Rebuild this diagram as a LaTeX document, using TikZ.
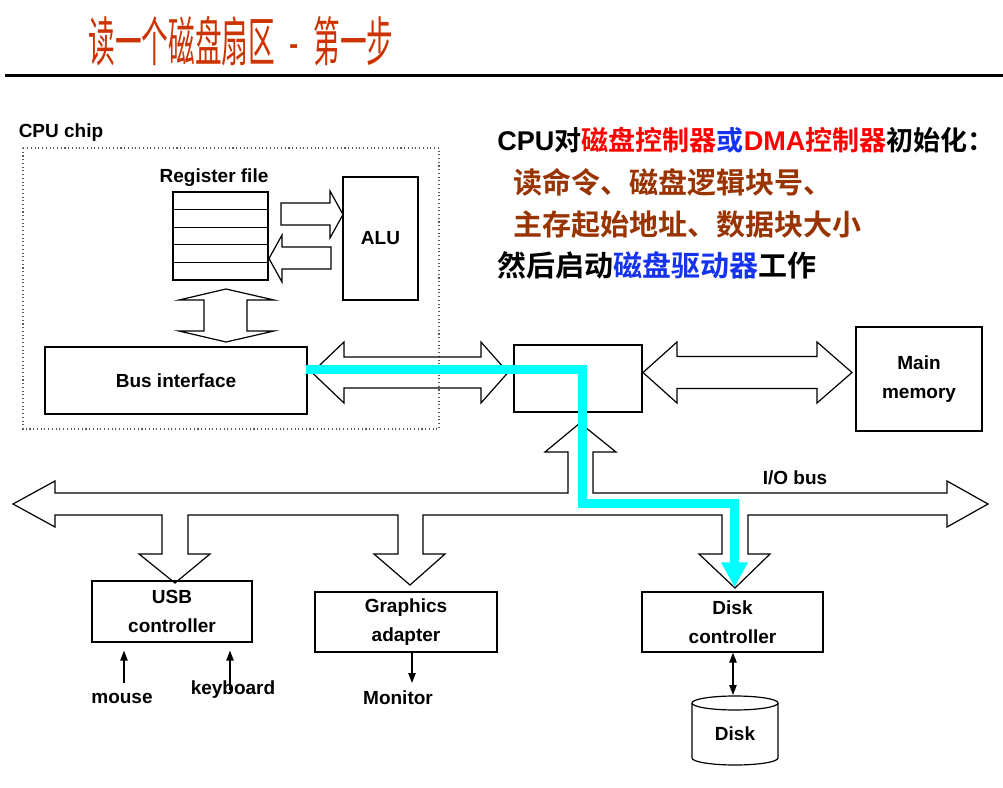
\documentclass[tikz,border=0pt]{standalone}
\usepackage{fontspec}
\usepackage{graphicx}
\setmainfont{Liberation Sans}
\newfontfamily\cjk{Noto Sans CJK SC}[BoldFont={Noto Sans CJK SC Bold}]
\usetikzlibrary{arrows.meta,calc}
\definecolor{titlered}{RGB}{204,51,0}
\definecolor{txtred}{RGB}{255,0,0}
\definecolor{txtblue}{RGB}{20,50,240}
\definecolor{txtbrown}{RGB}{153,51,0}
\definecolor{hilite}{RGB}{0,255,255}
\newcommand\lat[1]{{\rmfamily\bfseries #1}}
\tikzset{
  lbl/.style={font={\fontsize{14.25pt}{21.5pt}\selectfont\bfseries}, align=center, inner sep=0pt},
  box/.style={draw, line width=0.9pt, lbl},
  blk/.style={draw, line width=0.9pt, line join=miter},
  smalltip/.tip={Triangle[length=7.5pt,width=5.5pt]},
  thin arrow/.style={line width=1pt, -smalltip},
  cjkline/.style={anchor=west, inner sep=0pt, font={\cjk\bfseries}},
}
\begin{document}
\begin{tikzpicture}[x=0.75pt,y=-0.75pt]
\useasboundingbox[fill=white] (0,0) rectangle (1003,788);

% title
\node[text=titlered, inner sep=0pt] (title) at (241,41)
  {\scalebox{0.5}[1]{\fontsize{40pt}{40pt}\selectfont\cjk 读一个磁盘扇区\hspace{0.55em}-\hspace{0.55em}第一步}};
\draw[line width=2.25pt] (5,76) coordinate (rulel) -- (1003,76) coordinate (ruler);

% right-hand text
\node[cjkline, font={\fontsize{20.3pt}{24pt}\selectfont\cjk\bfseries}] (t1) at (497,140)
  {\lat{CPU}对\textcolor{txtred}{磁盘控制器}\textcolor{txtblue}{或}\textcolor{txtred}{\lat{DMA}控制器}初始化：};
\node[cjkline, text=txtbrown, font={\fontsize{21.75pt}{24pt}\selectfont\cjk\bfseries}] (t2) at (513,182)
  {读命令、磁盘逻辑块号、};
\node[cjkline, text=txtbrown, font={\fontsize{21.75pt}{24pt}\selectfont\cjk\bfseries}] (t3) at (513,225)
  {主存起始地址、数据块大小};
\node[cjkline, font={\fontsize{21.75pt}{24pt}\selectfont\cjk\bfseries}] (t4) at (497,265)
  {然后启动\textcolor{txtblue}{磁盘驱动器}工作};

% CPU chip
\draw[gray!70!black, dotted, line width=0.8pt] (23,148) rectangle (439,429);
\node[lbl] (cpulabel) at (61,133) {CPU chip};
\node[lbl] (reglabel) at (214,178) {Register file};
\node[draw, line width=0.9pt, minimum width=71.25pt, minimum height=66pt, inner sep=0pt] (regfile) at (220.5,236) {};
\foreach \yy in {209.6,227.2,244.8,262.4}
  \draw[line width=0.9pt] (regfile.west |- 0,\yy) -- (regfile.east |- 0,\yy);
\node[box, minimum width=56.25pt, minimum height=92.25pt] (alu) at (380.5,238.5) {ALU};
\node[box, minimum width=196.5pt, minimum height=50.25pt] (busif) at (176,380.5) {Bus interface};

% register <-> ALU block arrows
\draw[blk] (281,203) -- (330,203) -- (330,191) -- (343,214.5) -- (330,238) -- (330,225) -- (281,225) -- cycle;
\draw[blk] (331,247) -- (282,247) -- (282,235) -- (269,258.5) -- (282,282) -- (282,269) -- (331,269) -- cycle;
% register <-> bus interface
\draw[blk] (204,300) -- (179,300) -- (226,289) -- (274,300) -- (247,300) -- (247,331) -- (274,331) -- (226,342) -- (179,331) -- (204,331) -- cycle;

% bridge and memory
\node[draw, line width=0.9pt, minimum width=96pt, minimum height=50.25pt, inner sep=0pt] (bridge) at (578,378.5) {};
\node[box, minimum width=94.5pt, minimum height=78pt] (mem) at (919,379) {Main\\memory};

\draw[blk] (312,372.5) -- (344,342) -- (344,357) -- (481,357) -- (481,342) -- (508,372.5) -- (481,403) -- (481,388) -- (344,388) -- (344,403) -- cycle;
\draw[blk] (643,372.5) -- (677,342) -- (677,356.5) -- (817,356.5) -- (817,342) -- (852,372.5) -- (817,403) -- (817,388.5) -- (677,388.5) -- (677,403) -- cycle;

% controllers
\node[box, minimum width=120pt, minimum height=45.75pt] (usb) at (172,611.5) {USB\\controller};
\node[box, minimum width=136.5pt, minimum height=45pt] (gfx) at (406,622) {Graphics\\adapter};
\node[box, minimum width=135.75pt, minimum height=45pt] (diskctl) at (732.5,622) {Disk\\controller};

% I/O bus with branches
\draw[blk] (13,504) -- (55,481) -- (55,493) -- (568,493) -- (568,452) -- (545,452) -- (580,423) -- (616,452) -- (593,452) -- (593,493)
  -- (947,493) -- (947,481) -- (988,504) -- (947,527) -- (947,515)
  -- (748,515) -- (748,554) -- (770,554) -- (735,588) -- (699,554) -- (722,554) -- (722,515)
  -- (423,515) -- (423,554) -- (445,554) -- (410,585) -- (374,554) -- (398,554) -- (398,515)
  -- (188,515) -- (188,554) -- (210,554) -- (175,583) -- (139,554) -- (162,554) -- (162,515)
  -- (55,515) -- (55,527) -- cycle;
\node[lbl] (iobus) at (795,478) {I/O bus};

% devices
\node[lbl] (mouse) at (122,698) {mouse};
\node[lbl] (kbd) at (233,690) {keyboard};
\node[lbl] (monitor) at (398,698) {Monitor};
\draw[thin arrow] ($(mouse.center)+(2,-15)$) -- ($(usb.south -| mouse.center)+(2,8)$);
\draw[thin arrow] ($(kbd.center)+(-3,0)$) -- ($(usb.south -| kbd.center)+(-3,8)$);
\draw[thin arrow] ($(gfx.south)+(6,0)$) -- ($(monitor.center)+(14,-15)$);

% disk
\node[lbl, minimum width=64.5pt, minimum height=46pt] (disk) at (735,734) {Disk};
\draw[line width=0.9pt] (692,703) -- (692,758) arc[start angle=180, end angle=0, x radius=43, y radius=7] -- (778,703);
\draw[line width=0.9pt] (735,703) ellipse[x radius=43, y radius=7];
\draw[line width=1pt, smalltip-smalltip] (diskctl.south -| 733,0) -- (733,695);

% highlighted path
\draw[hilite, line width=6.75pt, line join=miter, -{Triangle[length=18.75pt,width=18.75pt]}]
  ($(busif.east)+(-2,-11)$) -- (582,369.5) -- (582,503.5) -- (734.5,503.5) -- ($(diskctl.north)+(2,-4)$);
\end{tikzpicture}
\end{document}
